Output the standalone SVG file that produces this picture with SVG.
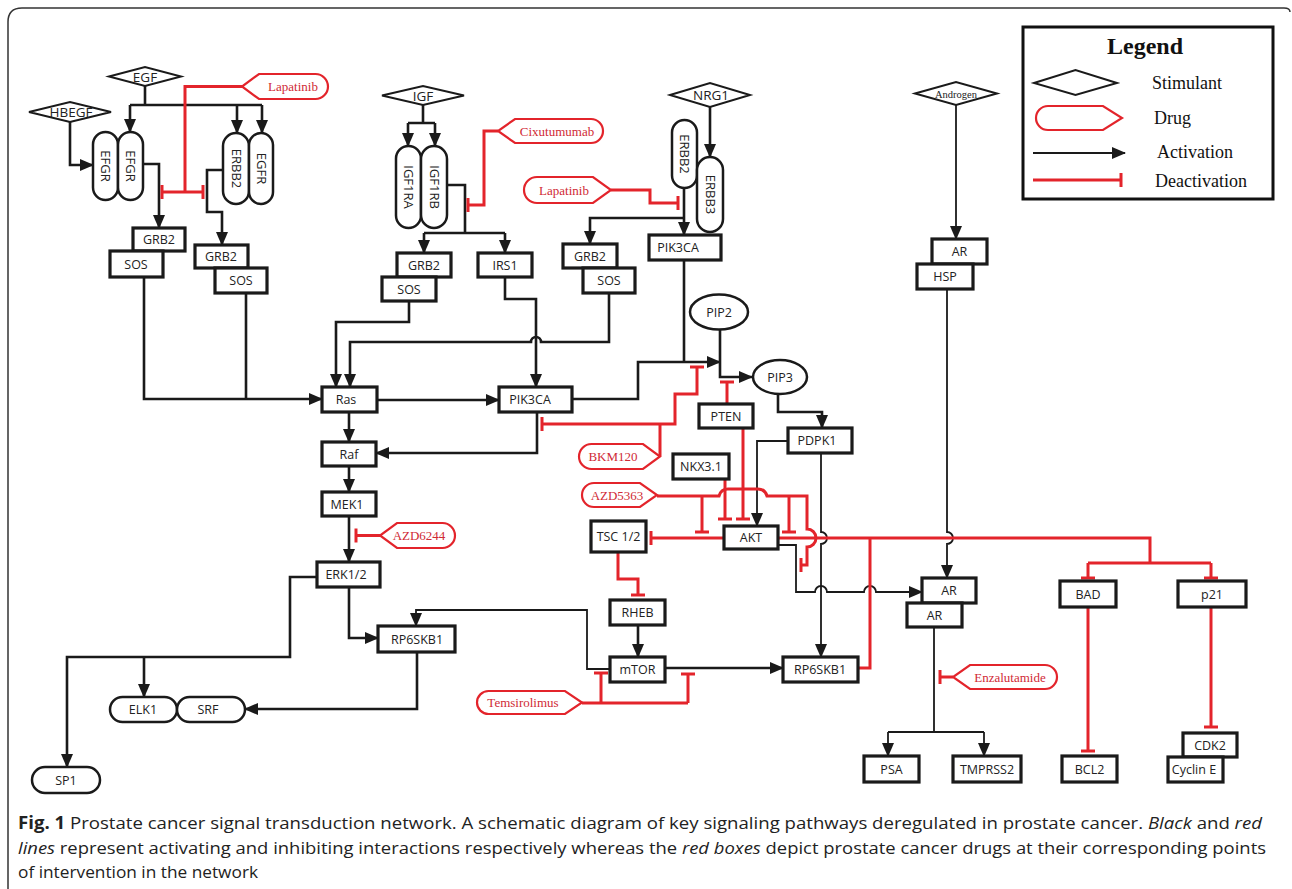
<svg xmlns="http://www.w3.org/2000/svg" width="1292" height="889" viewBox="0 0 1292 889">
<defs>
<marker id="ar" markerUnits="userSpaceOnUse" markerWidth="14" markerHeight="12" refX="13" refY="6" orient="auto"><path d="M0,0 L14,6 L0,12 Z" fill="#1a1a1a"/></marker>
<marker id="tee" markerUnits="userSpaceOnUse" markerWidth="4" markerHeight="16" refX="2" refY="8" orient="auto"><rect x="0.5" y="1" width="3" height="14" fill="#e3242b"/></marker>
</defs>
<style>
.box{fill:#fff;stroke:#1a1a1a;stroke-width:3.2}
.cap{fill:#fff;stroke:#1a1a1a;stroke-width:2.5}
.dia{fill:#fff;stroke:#1a1a1a;stroke-width:2}
.drug{fill:#fff;stroke:#e3242b;stroke-width:2.2}
.t{font-family:'Open Sans','Noto Sans',sans-serif;font-size:12.5px;fill:#222;text-anchor:middle}
.td{font-family:'Open Sans','Noto Sans',sans-serif;font-size:13.5px;fill:#222;text-anchor:middle}
.tv{font-family:'Open Sans','Noto Sans',sans-serif;font-size:13px;fill:#222;text-anchor:middle}
.dt{font-family:'Liberation Serif',serif;font-size:13px;fill:#d02a35;text-anchor:middle}
.lg{font-family:'Liberation Serif',serif;font-size:18px;fill:#111}
.k{fill:none;stroke:#1a1a1a;stroke-width:2.6}
.kt{fill:none;stroke:#1a1a1a;stroke-width:1.8}
.r{fill:none;stroke:#e3242b;stroke-width:3}
.a{marker-end:url(#ar)}
.te{marker-end:url(#tee)}
.ts{marker-start:url(#tee)}
.capt{font-family:'Open Sans','Noto Sans',sans-serif;font-size:17px;fill:#222}
</style>
<rect width="1292" height="889" fill="#fff"/>
<path d="M8,889 V22 Q8,8 22,8 H1284 Q1290,8 1290,12" fill="none" stroke="#333" stroke-width="1.5"/>

<g id="legend">
<rect x="1023" y="27" width="250" height="172" fill="#fff" stroke="#111" stroke-width="3"/>
<text x="1145" y="54" font-family="'Liberation Serif',serif" font-size="24" font-weight="bold" text-anchor="middle" fill="#111">Legend</text>
<polygon points="1034,83 1075.5,70 1117,83 1075.5,95" class="dia"/>
<text x="1152" y="89" class="lg">Stimulant</text>
<path d="M1048,106 H1103 L1122,118 L1103,130 H1048 A12,12 0 0 1 1048,106 Z" class="drug"/>
<text x="1154" y="124" class="lg">Drug</text>
<path d="M1033,153 H1125" class="kt a"/>
<text x="1157" y="158" class="lg">Activation</text>
<path d="M1033,180 H1121" class="r te"/>
<text x="1155" y="187" class="lg">Deactivation</text>
</g>

<g id="connectors">
<path d="M145,86 V105 M130,105 H262" class="k"/>
<path d="M130,105 V132" class="k a"/>
<path d="M237,105 V133" class="k a"/>
<path d="M262,105 V133" class="k a"/>
<path d="M70,122 V165 H93" class="k a"/>
<path d="M143,164 H159 V228" class="k a"/>
<path d="M223,170 H207 V212 H222 V245" class="k a"/>
<path d="M144,277 V399 H322" class="k a"/>
<path d="M246,293 V399" class="k"/>
<path d="M423,105 V123 M408,123 H435" class="k"/>
<path d="M408,123 V146" class="k a"/>
<path d="M435,123 V146" class="k a"/>
<path d="M447,185 H465 V233 M424,233 H505" class="k"/>
<path d="M424,233 V253" class="k a"/>
<path d="M505,233 V253" class="k a"/>
<path d="M710,107 V157" class="k a" stroke-width="3"/>
<path d="M684,188 V235" class="k a"/>
<path d="M684,218 H590 V244" class="k a"/>
<path d="M409,301 V322 H336 V387" class="k a"/>
<path d="M609,293 V342 H541 A5,5 0 0 0 531,342 H350 V387" class="k a"/>
<path d="M505,277 V299 H536 V387" class="k a"/>
<path d="M377,400 H499" class="k a"/>
<path d="M349,412 V442" class="k a"/>
<path d="M537,412 V453 H376" class="k a"/>
<path d="M349,466 V492" class="k a"/>
<path d="M349,516 V562" class="k a"/>
<path d="M349,587 V638 H378" class="k a"/>
<path d="M317,577 H290 V657 H67 V767" class="k a"/>
<path d="M144,657 V697" class="k a"/>
<path d="M417,652 V709 H245" class="k a"/>
<path d="M610,669 H587 V610 H416 V626" class="kt a"/>
<path d="M638,625 V657" class="k a"/>
<path d="M665,668 H783" class="k a"/>
<path d="M684,260 V362" class="k"/>
<path d="M572,399 H638 V362 H720" class="k a"/>
<path d="M720,330 V377 H752" class="k a"/>
<path d="M778,394 V412 H822 V428" class="k a"/>
<path d="M788,441 H757 V526" class="kt a"/>
<path d="M821,453 V532 A6,6 0 0 1 821,544 V657" class="kt a"/>
<path d="M778,545 H796 V592 H815 A6,6 0 0 1 827,592 H864 A6,6 0 0 1 876,592 H922" class="kt a"/>
<path d="M956,105 V239" class="kt a"/>
<path d="M947,289 V532 A6,6 0 0 1 947,544 V578" class="kt a"/>
<path d="M934,627 V732 M888,732 H984" class="kt"/>
<path d="M888,732 V756" class="kt a"/>
<path d="M984,732 V756" class="kt a"/>
<path d="M242,86.5 H185 V192" class="r"/>
<path d="M162,192 H203" class="r ts te"/>
<path d="M498,131 H484 V205 H468" class="r te"/>
<path d="M611,190 H650 V203 H678" class="r te"/>
<path d="M660,456 V424" class="r"/>
<path d="M542,424 H675 V394 H697 V367" class="r ts te"/>
<path d="M727,404 V382" class="r te"/>
<path d="M657,496 H719 Q721,489 728,489 H758 Q765,489 767,496 H807 V529 A5,5 0 0 1 807,547 V565 H801" class="r te"/>
<path d="M702,496 V532" class="r te"/>
<path d="M789,496 V532" class="r te"/>
<path d="M725,479 V519" class="r te"/>
<path d="M743,428 V519" class="r te"/>
<path d="M724,538 H651" class="r te"/>
<path d="M778,538 H1150 V563 M1088,563 H1211" class="r"/>
<path d="M1088,563 V578" class="r te"/>
<path d="M1211,563 V578" class="r te"/>
<path d="M858,668 H870 V538" class="r" stroke-width="2.4"/>
<path d="M618,552 V579 H638 V595" class="r te"/>
<path d="M582,703 H688" class="r"/>
<path d="M601,703 V673" class="r te"/>
<path d="M688,703 V674" class="r te"/>
<path d="M380,535.5 H356" class="r te"/>
<path d="M953,677 H940" class="r te"/>
<path d="M1088,607 V751" class="r te" stroke-width="4"/>
<path d="M1211,607 V727" class="r te" stroke-width="4"/>
</g>

<g id="n-EGF"><polygon points="109,76.5 145,67 181,76.5 145,86" class="dia"/><text x="145" y="81.5" class="td">EGF</text></g>
<g id="n-HBEGF"><polygon points="29,112 70,102 111,112 70,122" class="dia"/><text x="71" y="117" class="td">HBEGF</text></g>
<g id="n-IGF"><polygon points="382,95.5 423,86 464,95.5 423,105" class="dia"/><text x="423" y="100.5" class="td">IGF</text></g>
<g id="n-NRG1"><polygon points="670,95 710,83 750,95 710,107" class="dia"/><text x="711" y="100" class="td">NRG1</text></g>
<g id="n-Androgen"><polygon points="915,93.5 956,82 997,93.5 956,105" class="dia"/><text x="956" y="97.5" font-family="'Liberation Serif',serif" font-size="10.5" text-anchor="middle" fill="#222">Androgen</text></g>

<g id="n-EFGR1"><rect x="93" y="132" width="25" height="68" rx="12.5" class="cap"/><text transform="translate(105.5,166) rotate(90)" y="4.5" class="tv">EFGR</text></g>
<g id="n-EFGR2"><rect x="118" y="132" width="25" height="68" rx="12.5" class="cap"/><text transform="translate(130.5,166) rotate(90)" y="4.5" class="tv">EFGR</text></g>
<g id="n-ERBB2a"><rect x="223" y="133" width="26" height="71" rx="13" class="cap"/><text transform="translate(236,168.5) rotate(90)" y="4.5" class="tv">ERBB2</text></g>
<g id="n-EGFRa"><rect x="249" y="133" width="24" height="71" rx="12" class="cap"/><text transform="translate(261,168.5) rotate(90)" y="4.5" class="tv">EGFR</text></g>
<g id="n-IGF1RA"><rect x="396" y="146" width="25" height="82" rx="12.5" class="cap"/><text transform="translate(408.5,187) rotate(90)" y="4.5" class="tv">IGF1RA</text></g>
<g id="n-IGF1RB"><rect x="421" y="146" width="26" height="82" rx="13" class="cap"/><text transform="translate(434,187) rotate(90)" y="4.5" class="tv">IGF1RB</text></g>
<g id="n-ERBB2b"><rect x="672" y="120" width="25" height="68" rx="12.5" class="cap"/><text transform="translate(684.5,154) rotate(90)" y="4.5" class="tv">ERBB2</text></g>
<g id="n-ERBB3"><rect x="697" y="157" width="26" height="75" rx="13" class="cap"/><text transform="translate(710,194.5) rotate(90)" y="4.5" class="tv">ERBB3</text></g>

<g id="n-GRB2a"><rect x="133" y="228" width="52" height="23" class="box"/><text x="159" y="244" class="t">GRB2</text></g>
<g id="n-SOSa"><rect x="110" y="251" width="53" height="26" class="box"/><text x="136" y="268.5" class="t">SOS</text></g>
<g id="n-GRB2b"><rect x="195" y="245" width="53" height="23" class="box"/><text x="221" y="261" class="t">GRB2</text></g>
<g id="n-SOSb"><rect x="215" y="268" width="52" height="25" class="box"/><text x="241" y="285" class="t">SOS</text></g>
<g id="n-GRB2c"><rect x="397" y="253" width="54" height="24" class="box"/><text x="424" y="269.5" class="t">GRB2</text></g>
<g id="n-SOSc"><rect x="382" y="277" width="54" height="24" class="box"/><text x="409" y="293.5" class="t">SOS</text></g>
<g id="n-IRS1"><rect x="478" y="253" width="54" height="24" class="box"/><text x="505" y="269.5" class="t">IRS1</text></g>
<g id="n-GRB2d"><rect x="563" y="244" width="54" height="24" class="box"/><text x="590" y="260.5" class="t">GRB2</text></g>
<g id="n-SOSd"><rect x="583" y="268" width="52" height="25" class="box"/><text x="609" y="285" class="t">SOS</text></g>
<g id="n-PIK3CA1"><rect x="649" y="235" width="72" height="25" class="box"/><text x="678" y="252" class="t">PIK3CA</text></g>
<g id="n-Ras"><rect x="322" y="387" width="55" height="25" class="box"/><text x="346" y="404" class="t">Ras</text></g>
<g id="n-PIK3CA2"><rect x="499" y="387" width="73" height="25" class="box"/><text x="530" y="404" class="t">PIK3CA</text></g>
<g id="n-Raf"><rect x="322" y="442" width="54" height="24" class="box"/><text x="349" y="458.5" class="t">Raf</text></g>
<g id="n-MEK1"><rect x="322" y="492" width="54" height="24" class="box"/><text x="347" y="508.5" class="t">MEK1</text></g>
<g id="n-ERK"><rect x="317" y="562" width="63" height="25" class="box"/><text x="346" y="579" class="t">ERK1/2</text></g>
<g id="n-RP6SKB1a"><rect x="378" y="626" width="77" height="26" class="box"/><text x="417" y="643.5" class="t">RP6SKB1</text></g>
<g id="n-ELK1"><rect x="110" y="697" width="67" height="25" rx="12.5" class="cap"/><text x="143" y="714" class="t">ELK1</text></g>
<g id="n-SRF"><rect x="177" y="697" width="68" height="25" rx="12.5" class="cap"/><text x="208" y="714" class="t">SRF</text></g>
<g id="n-SP1"><rect x="32" y="767" width="68" height="26" rx="13" class="cap"/><text x="66" y="784.5" class="t">SP1</text></g>
<g id="n-PIP2"><ellipse cx="719" cy="312" rx="29" ry="17.5" class="cap"/><text x="719" y="316.5" class="t">PIP2</text></g>
<g id="n-PIP3"><ellipse cx="780" cy="377" rx="27" ry="17" class="cap"/><text x="780" y="381.5" class="t">PIP3</text></g>
<g id="n-PTEN"><rect x="699" y="404" width="54" height="24" class="box"/><text x="726" y="420.5" class="t">PTEN</text></g>
<g id="n-PDPK1"><rect x="788" y="428" width="64" height="25" class="box"/><text x="817" y="445" class="t">PDPK1</text></g>
<g id="n-NKX31"><rect x="673" y="454" width="56" height="25" class="box"/><text x="701" y="471" class="t">NKX3.1</text></g>
<g id="n-TSC"><rect x="591" y="521" width="55" height="31" class="box"/><text x="618.5" y="541" class="t">TSC 1/2</text></g>
<g id="n-AKT"><rect x="724" y="526" width="54" height="23" class="box"/><text x="751" y="542" class="t">AKT</text></g>
<g id="n-RHEB"><rect x="610" y="600" width="55" height="25" class="box"/><text x="637.5" y="617" class="t">RHEB</text></g>
<g id="n-mTOR"><rect x="610" y="657" width="55" height="25" class="box"/><text x="637.5" y="674" class="t">mTOR</text></g>
<g id="n-RP6SKB1b"><rect x="783" y="657" width="75" height="25" class="box"/><text x="820" y="674" class="t">RP6SKB1</text></g>
<g id="n-AR1"><rect x="932" y="239" width="55" height="25" class="box"/><text x="959.5" y="256" class="t">AR</text></g>
<g id="n-HSP"><rect x="917" y="264" width="56" height="25" class="box"/><text x="945" y="281" class="t">HSP</text></g>
<g id="n-AR2"><rect x="922" y="578" width="54" height="25" class="box"/><text x="949" y="595" class="t">AR</text></g>
<g id="n-AR3"><rect x="907" y="603" width="55" height="24" class="box"/><text x="934.5" y="619.5" class="t">AR</text></g>
<g id="n-PSA"><rect x="864" y="756" width="55" height="26" class="box"/><text x="891.5" y="773.5" class="t">PSA</text></g>
<g id="n-TMPRSS2"><rect x="953" y="756" width="68" height="26" class="box"/><text x="987" y="773.5" class="t">TMPRSS2</text></g>
<g id="n-BAD"><rect x="1060" y="581" width="56" height="26" class="box"/><text x="1088" y="598.5" class="t">BAD</text></g>
<g id="n-p21"><rect x="1178" y="581" width="68" height="26" class="box"/><text x="1212" y="598.5" class="t">p21</text></g>
<g id="n-BCL2"><rect x="1062" y="756" width="55" height="26" class="box"/><text x="1089.5" y="773.5" class="t">BCL2</text></g>
<g id="n-CDK2"><rect x="1183" y="733" width="54" height="24" class="box"/><text x="1210" y="749.5" class="t">CDK2</text></g>
<g id="n-CyclinE"><rect x="1168" y="757" width="55" height="25" class="box"/><text x="1194" y="774" class="t">Cyclin E</text></g>

<g id="d-Lapatinib1"><path d="M315.5,74 H259 L242,86.5 L259,99 H315.5 A12.5,12.5 0 0 0 315.5,74 Z" class="drug"/><text x="293" y="91" class="dt">Lapatinib</text></g>
<g id="d-Cixutumumab"><path d="M591,119 H515 L498,131 L515,143 H591 A12,12 0 0 0 591,119 Z" class="drug"/><text x="557" y="135.5" class="dt">Cixutumumab</text></g>
<g id="d-Lapatinib2"><path d="M537,177 H593 L611,190 L593,203 H537 A13,13 0 0 1 537,177 Z" class="drug"/><text x="564" y="194.5" class="dt">Lapatinib</text></g>
<g id="d-BKM120"><path d="M591.5,444 H643 L660,456.5 L643,469 H591.5 A12.5,12.5 0 0 1 591.5,444 Z" class="drug"/><text x="613" y="461" class="dt">BKM120</text></g>
<g id="d-AZD5363"><path d="M594,483 H640 L657,495 L640,507 H594 A12,12 0 0 1 594,483 Z" class="drug"/><text x="617" y="499.5" class="dt">AZD5363</text></g>
<g id="d-AZD6244"><path d="M442.5,523 H397 L380,535.5 L397,548 H442.5 A12.5,12.5 0 0 0 442.5,523 Z" class="drug"/><text x="419" y="540" class="dt">AZD6244</text></g>
<g id="d-Temsirolimus"><path d="M488.5,691 H565 L582,702.5 L565,714 H488.5 A11.5,11.5 0 0 1 488.5,691 Z" class="drug"/><text x="523" y="707" class="dt">Temsirolimus</text></g>
<g id="d-Enzalutamide"><path d="M1045,665 H970 L953,677 L970,689 H1045 A12,12 0 0 0 1045,665 Z" class="drug"/><text x="1010" y="681.5" class="dt">Enzalutamide</text></g>

<g id="caption">
<text x="18" y="829" class="capt" textLength="1244" lengthAdjust="spacingAndGlyphs"><tspan font-weight="bold">Fig. 1</tspan> Prostate cancer signal transduction network. A schematic diagram of key signaling pathways deregulated in prostate cancer. <tspan font-style="italic">Black</tspan> and <tspan font-style="italic">red</tspan></text>
<text x="18" y="854" class="capt" textLength="1248" lengthAdjust="spacingAndGlyphs"><tspan font-style="italic">lines</tspan> represent activating and inhibiting interactions respectively whereas the <tspan font-style="italic">red boxes</tspan> depict prostate cancer drugs at their corresponding points</text>
<text x="18" y="878" class="capt" textLength="240" lengthAdjust="spacingAndGlyphs">of intervention in the network</text>
</g>
</svg>
